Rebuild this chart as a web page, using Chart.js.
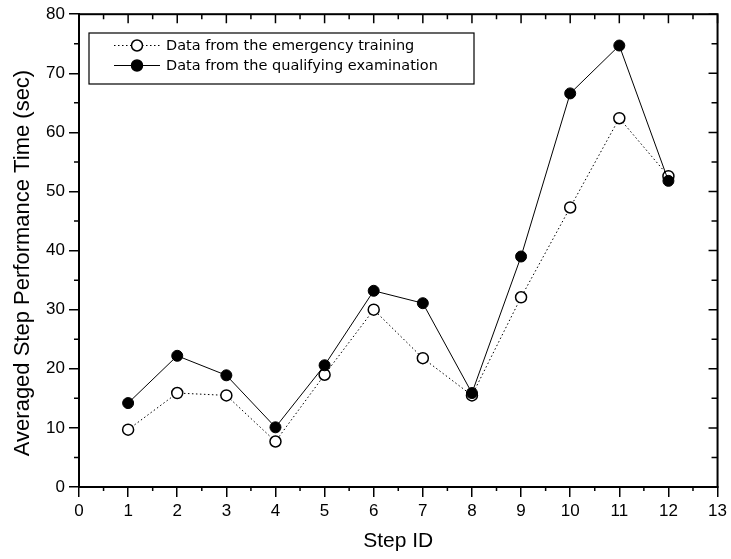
<!DOCTYPE html>
<html>
<head>
<meta charset="utf-8">
<script src="https://cdn.jsdelivr.net/npm/chart.js@4.4.1/dist/chart.umd.min.js"></script>
<style>
  html, body { margin: 0; padding: 0; background: #fff; }
  #wrap { width: 731px; height: 559px; }
</style>
</head>
<body>
<div id="wrap"><canvas id="c" width="731" height="559"></canvas></div>
<script>
const steps = [1, 2, 3, 4, 5, 6, 7, 8, 9, 10, 11, 12];
const trainingTimes = [9.7, 15.9, 15.5, 7.7, 19.0, 30.0, 21.8, 15.5, 32.1, 47.3, 62.4, 52.6];
const examTimes = [14.2, 22.2, 18.9, 10.1, 20.6, 33.2, 31.1, 15.9, 39.0, 66.6, 74.7, 51.8];
const seriesLabels = ['Data from the emergency training', 'Data from the qualifying examination'];
const xTitle = 'Step ID';
const yTitle = 'Averaged Step Performance Time (sec)';
const xMin = 0, xMax = 13, yMin = 0, yMax = 80;

const toPoints = (ys) => steps.map((s, i) => ({ x: s, y: ys[i] }));

const frameAndTicks = {
  id: 'frameAndTicks',
  afterDraw(chart) {
    const ctx = chart.ctx;
    const { left, right, top, bottom } = chart.chartArea;
    const xs = chart.scales.x, ys = chart.scales.y;
    ctx.save();
    ctx.strokeStyle = '#000';
    ctx.lineWidth = 1.5;
    ctx.beginPath();
    for (let v = xMin + 0.5; v < xMax; v += 1) {
      const px = xs.getPixelForValue(v);
      ctx.moveTo(px, bottom); ctx.lineTo(px, bottom + 4);
      ctx.moveTo(px, top); ctx.lineTo(px, top + 5);
    }
    for (let v = xMin; v <= xMax; v += 1) {
      const px = xs.getPixelForValue(v);
      ctx.moveTo(px, top); ctx.lineTo(px, top + 9);
    }
    for (let v = yMin + 5; v < yMax; v += 10) {
      const py = ys.getPixelForValue(v);
      ctx.moveTo(left, py); ctx.lineTo(left - 5, py);
      ctx.moveTo(right, py); ctx.lineTo(right - 6, py);
    }
    for (let v = yMin; v <= yMax; v += 10) {
      const py = ys.getPixelForValue(v);
      ctx.moveTo(right, py); ctx.lineTo(right - 9, py);
    }
    ctx.stroke();
    ctx.lineWidth = 2;
    ctx.strokeRect(left, top, right - left, bottom - top);
    ctx.restore();

    ctx.save();
    ctx.fillStyle = '#000';
    ctx.font = '22px "Liberation Sans", Arial, sans-serif';
    ctx.textAlign = 'center';
    ctx.textBaseline = 'middle';
    ctx.translate(23, 263);
    ctx.rotate(-Math.PI / 2);
    ctx.fillText(yTitle, 0, 0);
    ctx.restore();

    ctx.save();
    const bx = 89, by = 33, bw = 385, bh = 51;
    ctx.fillStyle = '#fff';
    ctx.fillRect(bx, by, bw, bh);
    ctx.strokeStyle = '#000';
    ctx.lineWidth = 1.2;
    ctx.strokeRect(bx, by, bw, bh);
    ctx.font = '14.5px "DejaVu Sans", Verdana, sans-serif';
    ctx.textBaseline = 'middle';
    ctx.textAlign = 'left';
    const rows = [45.5, 65.5];
    const dsOrder = [0, 1];
    dsOrder.forEach((di, r) => {
      const ds = chart.data.datasets[di];
      const y = rows[r];
      ctx.strokeStyle = '#000';
      ctx.lineWidth = 1;
      ctx.setLineDash(ds.borderDash || []);
      ctx.beginPath();
      ctx.moveTo(114, y); ctx.lineTo(160, y);
      ctx.stroke();
      ctx.setLineDash([]);
      ctx.beginPath();
      ctx.arc(137, y, 5.5, 0, Math.PI * 2);
      ctx.fillStyle = ds.pointBackgroundColor;
      ctx.fill();
      ctx.lineWidth = 1.5;
      ctx.stroke();
      ctx.fillStyle = '#000';
      ctx.fillText(ds.label, 166, y + 0.5);
    });
    ctx.restore();
  }
};

new Chart(document.getElementById('c'), {
  type: 'line',
  data: {
    datasets: [
      {
        label: seriesLabels[0],
        data: toPoints(trainingTimes),
        borderColor: '#000',
        borderWidth: 1,
        borderDash: [1.5, 2.5],
        pointRadius: 5.5,
        pointBorderWidth: 1.5,
        pointBackgroundColor: '#fff',
        pointBorderColor: '#000',
        tension: 0,
        order: 2
      },
      {
        label: seriesLabels[1],
        data: toPoints(examTimes),
        borderColor: '#000',
        borderWidth: 1,
        pointRadius: 5.5,
        pointBorderWidth: 1,
        pointBackgroundColor: '#000',
        pointBorderColor: '#000',
        tension: 0,
        order: 1
      }
    ]
  },
  options: {
    responsive: false,
    animation: false,
    devicePixelRatio: 1,
    layout: { padding: { top: 13, right: 13, left: 0, bottom: 0 } },
    plugins: { legend: { display: false }, tooltip: { enabled: false } },
    scales: {
      x: {
        type: 'linear',
        min: xMin, max: xMax,
        afterFit(scale) { scale.height = 72; },
        border: { display: true, color: '#000', width: 2 },
        grid: { display: true, drawOnChartArea: false, drawTicks: true, tickLength: 10, color: '#000', lineWidth: 1.5 },
        ticks: { stepSize: 1, color: '#000', padding: 4, font: { family: '"Liberation Sans", Arial, sans-serif', size: 17 }, maxRotation: 0, autoSkip: false },
        title: { display: true, text: xTitle, color: '#000', font: { family: '"Liberation Sans", Arial, sans-serif', size: 21 }, padding: { top: 0, bottom: 5 } }
      },
      y: {
        min: yMin, max: yMax,
        afterFit(scale) { scale.width = 79; },
        border: { display: true, color: '#000', width: 2 },
        grid: { display: true, drawOnChartArea: false, drawTicks: true, tickLength: 10, color: '#000', lineWidth: 1.5 },
        ticks: { stepSize: 10, color: '#000', padding: 4, font: { family: '"Liberation Sans", Arial, sans-serif', size: 17 } },
        title: { display: false }
      }
    }
  },
  plugins: [frameAndTicks]
});
</script>
</body>
</html>
